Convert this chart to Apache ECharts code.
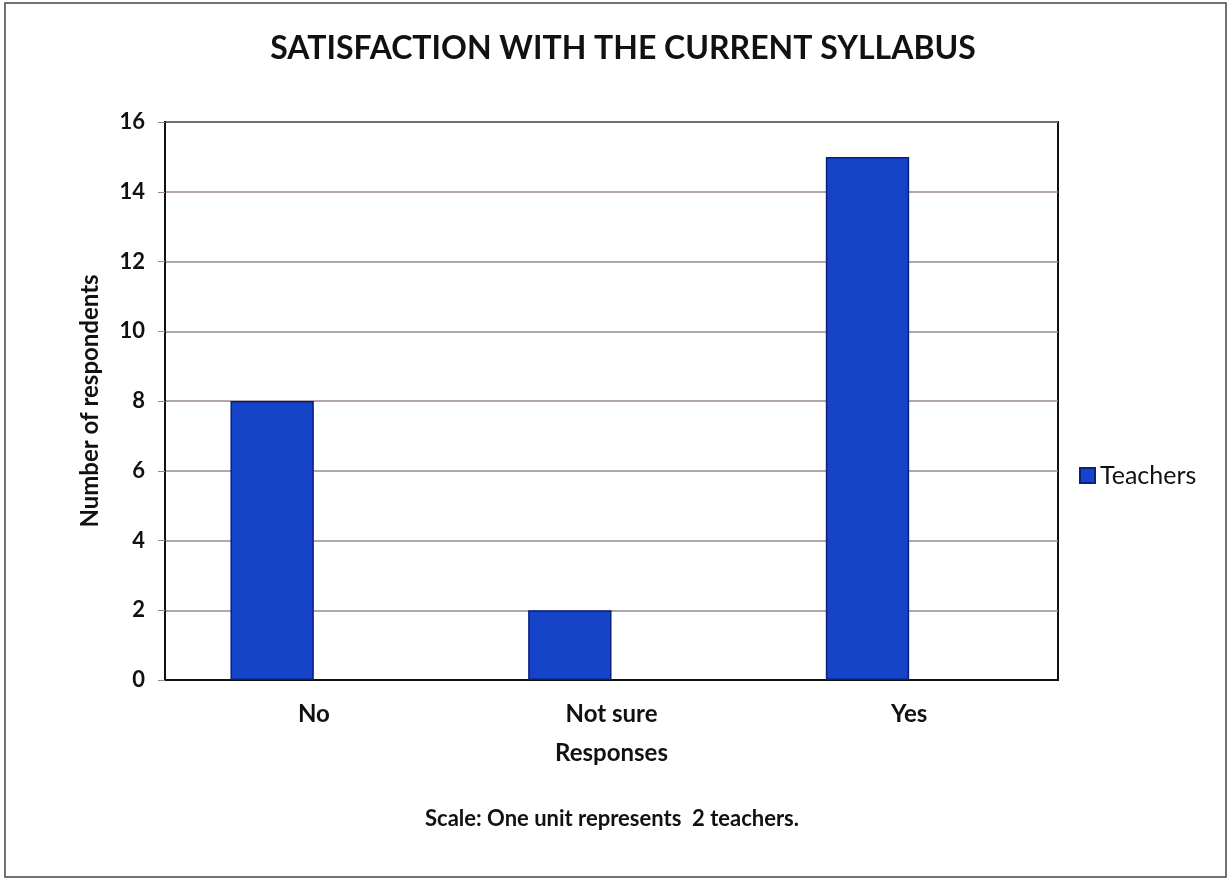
<!DOCTYPE html>
<html>
<head>
<meta charset="utf-8">
<script src="https://cdn.jsdelivr.net/npm/echarts@6/dist/echarts.min.js"></script>
<style>
  html, body { margin: 0; padding: 0; background: #fff; }
  #chart { width: 1231px; height: 881px; }
</style>
</head>
<body>
<div id="chart"></div>
<script>
const categories = ['No', 'Not sure', 'Yes']
const teachers = [8, 2, 15]
const seriesName = 'Teachers'
// empty slot next to each bar, as in the original spreadsheet chart
const emptySlot = [null, null, null]

const FONT = 'Lato, "Open Sans", sans-serif'
let chart = echarts.init(document.getElementById('chart'))
let option = {
  backgroundColor: '#fff',
  textStyle: { fontFamily: FONT },
  title: [
    {
      text: 'SATISFACTION WITH THE CURRENT SYLLABUS',
      left: 618, top: 28, textAlign: 'center',
      textStyle: { fontSize: 32, fontWeight: 'bold', color: '#111', fontFamily: FONT }
    },
    {
      text: 'Scale: One unit represents  2 teachers.',
      left: 607, top: 803, textAlign: 'center',
      textStyle: { fontSize: 22, fontWeight: 'bold', color: '#111', fontFamily: FONT }
    }
  ],
  legend: {
    data: [{ name: seriesName, icon: 'rect' }],
    left: 1074, top: 458,
    itemWidth: 15, itemHeight: 15, itemGap: 6,
    textStyle: { fontSize: 25, color: '#111', fontFamily: FONT }
  },
  graphic: [{
    type: 'rect',
    shape: { x: 5, y: 3, width: 1221, height: 874 },
    style: { fill: 'none', stroke: '#444', lineWidth: 1.5 },
    silent: true
  }],
  grid: {
    left: 165, right: 173, top: 122, bottom: 201,
    show: true, borderColor: '#111', borderWidth: 2
  },
  xAxis: {
    type: 'category',
    data: categories,
    name: 'Responses',
    nameLocation: 'middle',
    nameGap: 61,
    nameTextStyle: { fontSize: 24, fontWeight: 'bold', color: '#111', fontFamily: FONT },
    axisLine: { lineStyle: { color: '#111', width: 2 } },
    axisTick: { show: false },
    axisLabel: { fontSize: 24, fontWeight: 'bold', color: '#111', margin: 22, fontFamily: FONT }
  },
  yAxis: {
    type: 'value',
    min: 0, max: 16, interval: 2,
    name: 'Number of respondents',
    nameLocation: 'middle',
    nameGap: 63,
    nameTextStyle: { fontSize: 24, fontWeight: 'bold', color: '#111', fontFamily: FONT },
    axisLine: { show: true, lineStyle: { color: '#111', width: 2 } },
    axisTick: { show: true, length: 7, lineStyle: { color: '#9a8a8e' } },
    axisLabel: { fontSize: 22, fontWeight: 'bold', color: '#111', margin: 20, fontFamily: FONT },
    splitLine: { lineStyle: { color: '#9a8a8e', width: 1.5 } }
  },
  series: [
    {
      name: seriesName,
      type: 'bar',
      data: teachers,
      barWidth: '28%',
      barGap: '0%',
      itemStyle: { color: '#1644c9', borderColor: '#0a1f80', borderWidth: 1.5 }
    },
    {
      name: 'empty',
      type: 'bar',
      data: emptySlot,
      barWidth: '28%',
      silent: true
    }
  ]
}
chart.setOption(option)
</script>
</body>
</html>
